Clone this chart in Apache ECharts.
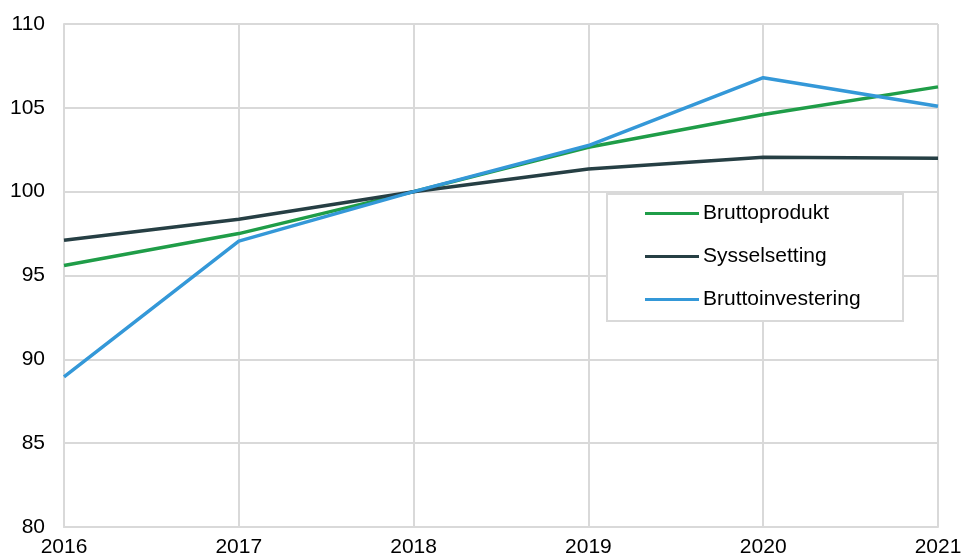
<!DOCTYPE html>
<html>
<head>
<meta charset="utf-8">
<script src="https://cdn.jsdelivr.net/npm/echarts@6/dist/echarts.min.js"></script>
<style>html,body{margin:0;padding:0;background:#fff}#c{width:962px;height:553px}</style>
</head>
<body>
<div id="c"></div>
<script>
const years = ['2016','2017','2018','2019','2020','2021'];
const bruttoprodukt = [95.6, 97.5, 100, 102.65, 104.6, 106.25];
const sysselsetting = [97.1, 98.35, 100, 101.35, 102.05, 102.0];
const bruttoinvestering = [88.95, 97.05, 100, 102.75, 106.8, 105.1];
const seriesNames = ['Bruttoprodukt','Sysselsetting','Bruttoinvestering'];
const colors = ['#1f9d48','#263f44','#3498d8'];
const yTicks = {min: 80, max: 110, interval: 5};

const chart = echarts.init(document.getElementById('c'));
const font = 'Liberation Sans, Arial, sans-serif';
const dataSets = [bruttoprodukt, sysselsetting, bruttoinvestering];
chart.setOption({
  animation: false,
  backgroundColor: '#fff',
  grid: {left: 64, right: 24, top: 24, bottom: 26, containLabel: false, outerBoundsMode: 'none'},
  graphic: [{
    type: 'rect', left: 606, top: 193, z: 5,
    shape: {width: 296, height: 127},
    style: {fill: '#fff', stroke: '#d9d9d9', lineWidth: 2}
  }],
  legend: {
    orient: 'vertical', left: 640, top: 198, z: 10,
    icon: 'rect', itemWidth: 54, itemHeight: 3, itemGap: 22,
    textStyle: {fontFamily: font, fontSize: 21, color: '#000', padding: [0,0,0,-1]},
    data: seriesNames
  },
  xAxis: {
    type: 'category', data: years, boundaryGap: false,
    axisLine: {lineStyle: {color: '#d9d9d9', width: 2}},
    axisTick: {show: false},
    axisLabel: {fontFamily: font, fontSize: 21, color: '#000', margin: 10, showMaxLabel: true, showMinLabel: true},
    splitLine: {show: true, lineStyle: {color: '#d9d9d9', width: 2}}
  },
  yAxis: {
    type: 'value', min: yTicks.min, max: yTicks.max, interval: yTicks.interval,
    axisLine: {show: true, lineStyle: {color: '#d9d9d9', width: 2}},
    axisTick: {show: false},
    axisLabel: {fontFamily: font, fontSize: 21, color: '#000', margin: 19},
    splitLine: {show: true, lineStyle: {color: '#d9d9d9', width: 2}}
  },
  series: seriesNames.map((n, i) => ({
    name: n, type: 'line', data: dataSets[i],
    symbol: 'none', color: colors[i],
    lineStyle: {width: 3.5, color: colors[i]}
  }))
});
</script>
</body>
</html>
